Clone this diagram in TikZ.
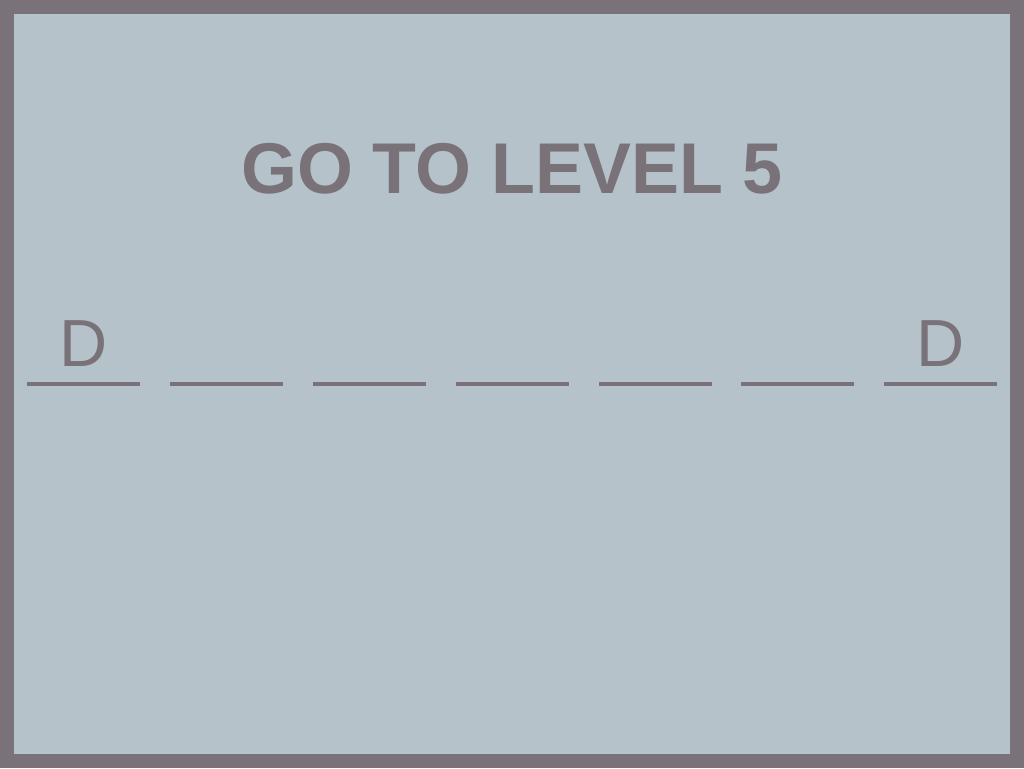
\documentclass[tikz,border=0pt]{standalone}
\usepackage{fontspec}
\setmainfont{Liberation Sans}
\definecolor{framegray}{HTML}{797379}
\definecolor{bgblue}{HTML}{B5C2CA}
\begin{document}
\begin{tikzpicture}[x=0.75pt,y=-0.75pt,
  blank/.style={draw=framegray,line width=3pt},
  letter/.style={anchor=base,inner sep=0pt,text=framegray,font=\fontsize{50}{60}\selectfont},
  title/.style={anchor=base,inner sep=0pt,text=framegray,font=\fontsize{53.9}{64}\selectfont\bfseries}]
\useasboundingbox (0,0) rectangle (1024,768);
\fill[framegray] (0,0) rectangle (1024,768);
\fill[bgblue] (14,14) rectangle (1010,754);
\node[title] (t) at (512,193) {GO TO LEVEL 5};
\foreach \i/\x in {1/27,2/170,3/313,4/456,5/599,6/741,7/884}{
  \coordinate (b\i s) at (\x,383.5);
  \coordinate (b\i e) at (\x+113,383.5);
  \draw[blank] (b\i s) -- (b\i e);
}
\node[letter] (d1) at (83.5,366) {D};
\node[letter] (d7) at (940.5,366) {D};
\end{tikzpicture}
\end{document}
